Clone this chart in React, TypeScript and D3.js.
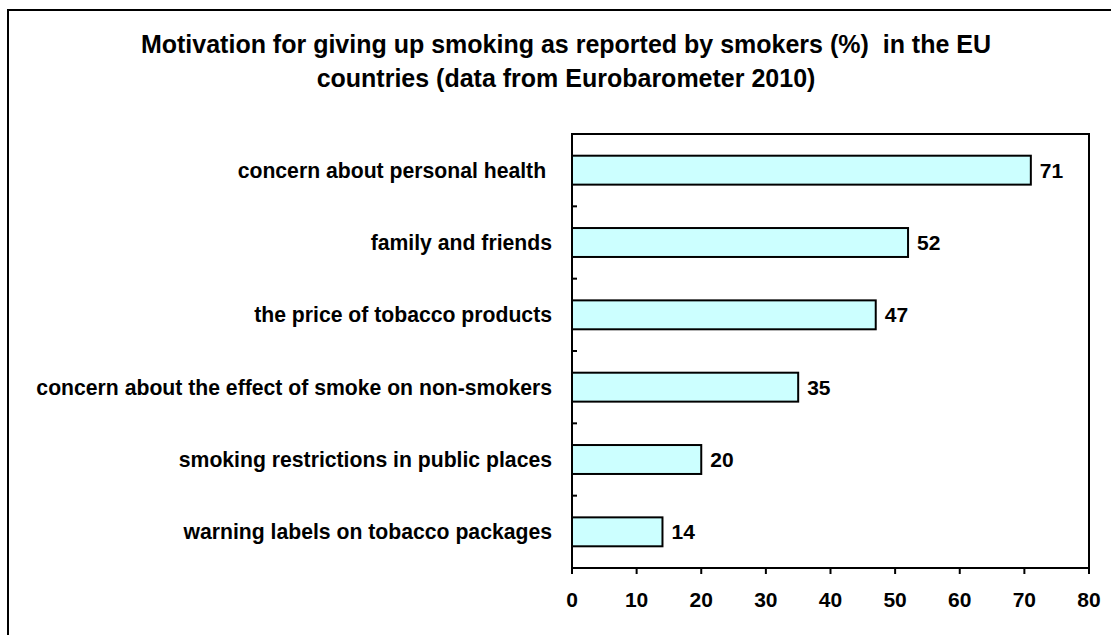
import React, { useEffect, useRef } from "react";
import * as d3 from "d3";

const categories = [
  "concern about personal health ",
  "family and friends",
  "the price of tobacco products",
  "concern about the effect of smoke on non-smokers",
  "smoking restrictions in public places",
  "warning labels on tobacco packages",
];
const values = [71, 52, 47, 35, 20, 14];
const xTicks = [0, 10, 20, 30, 40, 50, 60, 70, 80];
const titleLines = [
  "Motivation for giving up smoking as reported by smokers (%)  in the EU",
  "countries (data from Eurobarometer 2010)",
];

const W = 1111;
const H = 635;
const FONT = "'Liberation Sans', Arial, sans-serif";

export default function App() {
  const ref = useRef<SVGSVGElement | null>(null);
  useEffect(() => {
    const svg = d3.select(ref.current);
    svg.selectAll("*").remove();

    const left = 572, right = 1089, top = 134, bottom = 568;
    const x = d3.scaleLinear().domain([0, 80]).range([left, right]);
    const y = d3.scaleBand<string>().domain(categories).range([top, bottom]).paddingInner(0.6).paddingOuter(0.3);
    const band = d3.scaleBand<string>().domain(categories).range([top, bottom]);

    // outer border
    svg.append("rect").attr("x", 8).attr("y", 10).attr("width", 1200).attr("height", 800)
      .attr("fill", "white").attr("stroke", "#000").attr("stroke-width", 2);

    // title
    const t = svg.append("text").attr("font-family", FONT).attr("font-weight", "bold")
      .attr("font-size", 25).attr("text-anchor", "middle").attr("fill", "#000");
    titleLines.forEach((line, i) => {
      t.append("tspan").attr("x", 566).attr("y", 53 + i * 34).attr("xml:space", "preserve").text(line);
    });

    // plot frame
    svg.append("rect").attr("x", left).attr("y", top).attr("width", right - left).attr("height", bottom - top)
      .attr("fill", "none").attr("stroke", "#000").attr("stroke-width", 2);

    // y ticks at band boundaries (inside)
    categories.slice(1).forEach((c) => {
      const yy = band(c)!;
      svg.append("line").attr("x1", left).attr("x2", left + 5).attr("y1", yy).attr("y2", yy)
        .attr("stroke", "#000").attr("stroke-width", 2);
    });

    // bars
    categories.forEach((c, i) => {
      svg.append("rect").attr("x", x(0)).attr("y", y(c)!).attr("width", x(values[i]) - x(0))
        .attr("height", y.bandwidth()).attr("fill", "#CCFFFF").attr("stroke", "#000").attr("stroke-width", 2);
      svg.append("text").attr("x", x(values[i]) + 9).attr("y", y(c)! + y.bandwidth() / 2)
        .attr("dy", "0.36em").attr("font-family", FONT).attr("font-weight", "bold").attr("font-size", 21)
        .text(String(values[i]));
      svg.append("text").attr("x", left - 20).attr("y", band(c)! + band.bandwidth() / 2)
        .attr("dy", "0.36em").attr("text-anchor", "end").attr("xml:space", "preserve")
        .attr("font-family", FONT).attr("font-weight", "bold").attr("font-size", 21.2)
        .text(c);
    });

    // x ticks
    xTicks.forEach((v) => {
      svg.append("line").attr("x1", x(v)).attr("x2", x(v)).attr("y1", bottom).attr("y2", bottom + 6)
        .attr("stroke", "#000").attr("stroke-width", 2);
      svg.append("text").attr("x", x(v)).attr("y", 607).attr("text-anchor", "middle")
        .attr("font-family", FONT).attr("font-weight", "bold").attr("font-size", 21).text(String(v));
    });
  }, []);
  return (
    <svg ref={ref} width={W} height={H} style={{ position: "absolute", left: 0, top: 0, background: "#fff" }} />
  );
}
